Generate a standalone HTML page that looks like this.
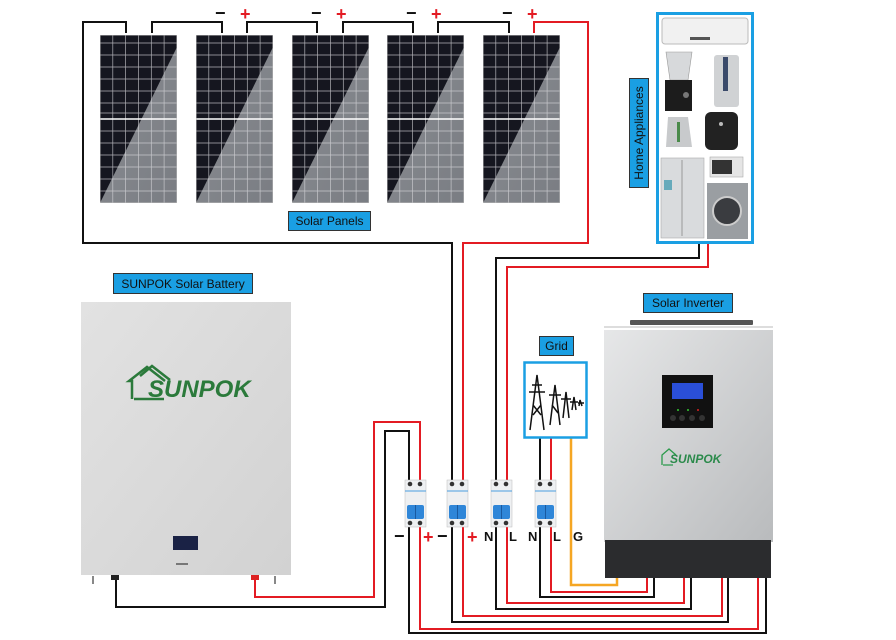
<!DOCTYPE html>
<html><head><meta charset="utf-8"><style>
html,body{margin:0;padding:0;background:#fff;}
svg{display:block}
.lbl{font-family:"Liberation Sans",sans-serif;font-size:12px;fill:#111;}
.pm{font-family:"Liberation Sans",sans-serif;font-weight:bold;font-size:18px;}
.nl{font-family:"Liberation Sans",sans-serif;font-weight:bold;font-size:13px;fill:#111;}
</style></head><body>
<svg width="896" height="640" viewBox="0 0 896 640" xmlns="http://www.w3.org/2000/svg">
<defs>
<linearGradient id="pg" x1="0" y1="0" x2="1" y2="1"><stop offset="0" stop-color="#8a8d92"/><stop offset="1" stop-color="#7a7d83"/></linearGradient>
<symbol id="panel" viewBox="0 0 77 168" width="77" height="168">
<rect x="0" y="0" width="77" height="168" fill="url(#pg)"/>
<polygon points="0,0 77,0 77,12 0,168" fill="#15161f"/>
<g stroke="#d8d8dc" stroke-width="0.7" opacity="0.8">
<line x1="12.8" y1="0" x2="12.8" y2="168"/><line x1="25.6" y1="0" x2="25.6" y2="168"/><line x1="38.5" y1="0" x2="38.5" y2="168"/><line x1="51.3" y1="0" x2="51.3" y2="168"/><line x1="64.1" y1="0" x2="64.1" y2="168"/>
<line x1="0" y1="8" x2="77" y2="8"/><line x1="0" y1="20" x2="77" y2="20"/><line x1="0" y1="32" x2="77" y2="32"/><line x1="0" y1="44" x2="77" y2="44"/><line x1="0" y1="56" x2="77" y2="56"/><line x1="0" y1="68" x2="77" y2="68"/><line x1="0" y1="78" x2="77" y2="78"/>
<line x1="0" y1="96" x2="77" y2="96"/><line x1="0" y1="108" x2="77" y2="108"/><line x1="0" y1="120" x2="77" y2="120"/><line x1="0" y1="132" x2="77" y2="132"/><line x1="0" y1="144" x2="77" y2="144"/><line x1="0" y1="156" x2="77" y2="156"/>
</g>
<line x1="0" y1="84" x2="77" y2="84" stroke="#fff" stroke-width="1.5"/>
<rect x="0" y="0" width="77" height="168" fill="none" stroke="#bbb" stroke-width="1"/>
</symbol>
<linearGradient id="inv" x1="0" y1="0" x2="1" y2="1"><stop offset="0" stop-color="#e6e7e8"/><stop offset="1" stop-color="#b9bbbd"/></linearGradient>
<linearGradient id="bat" x1="0" y1="0" x2="1" y2="1"><stop offset="0" stop-color="#e2e2e2"/><stop offset="1" stop-color="#d2d2d2"/></linearGradient>
</defs>

<!-- panels -->
<use href="#panel" x="100" y="35"/>
<use href="#panel" x="196" y="35"/>
<use href="#panel" x="292" y="35"/>
<use href="#panel" x="387" y="35"/>
<use href="#panel" x="483" y="35"/>

<!-- panel series wires -->
<g fill="none" stroke="#111" stroke-width="2">
<polyline points="126,33 126,22 83,22 83,243 452,243 452,482"/>
<polyline points="152,33 152,22 222,22 222,33"/>
<polyline points="247,33 247,22 317,22 317,33"/>
<polyline points="343,33 343,22 413,22 413,33"/>
<polyline points="438,33 438,22 509,22 509,33"/>
<polyline points="699,243 699,258 496,258 496,482"/>
<polyline points="540,438 540,482"/>
<polyline points="116,577 116,607 385,607 385,431 409,431 409,482"/>
<!-- bottom black -->
<polyline points="409,527 409,633 766,633 766,578"/>
<polyline points="452,527 452,622 728,622 728,578"/>
<polyline points="496,527 496,609 691,609 691,578"/>
<polyline points="540,527 540,597 654,597 654,578"/>
</g>
<g fill="none" stroke="#e31b23" stroke-width="2">
<polyline points="534,33 534,22 588,22 588,243 463,243 463,482"/>
<polyline points="708,243 708,267 507,267 507,482"/>
<polyline points="551,438 551,482"/>
<polyline points="255,577 255,597 374,597 374,422 420,422 420,482"/>
<polyline points="420,527 420,629 758,629 758,578"/>
<polyline points="463,527 463,616 722,616 722,578"/>
<polyline points="507,527 507,603 684,603 684,578"/>
<polyline points="551,527 551,592 647,592 647,578"/>
</g>
<polyline points="571,438 571,585 617,585 617,578" fill="none" stroke="#f5a623" stroke-width="2.5"/>

<!-- +/- on panels -->
<g class="pm">
<text x="215" y="19" fill="#111">−</text><text x="240" y="20" fill="#e31b23">+</text>
<text x="311" y="19" fill="#111">−</text><text x="336" y="20" fill="#e31b23">+</text>
<text x="406" y="19" fill="#111">−</text><text x="431" y="20" fill="#e31b23">+</text>
<text x="502" y="19" fill="#111">−</text><text x="527" y="20" fill="#e31b23">+</text>
</g>

<!-- Solar Panels label -->
<rect x="288.5" y="211.5" width="82" height="19" fill="#1a9fe3" stroke="#333"/>
<text x="329.5" y="225" text-anchor="middle" class="lbl">Solar Panels</text>

<!-- Appliances -->
<rect x="657.5" y="13.5" width="95" height="229" fill="#fff" stroke="#1a9fe3" stroke-width="3"/>
<rect x="662" y="18" width="86" height="26" rx="3" fill="#f1f1f1" stroke="#bbb"/>
<rect x="690" y="37" width="20" height="3" fill="#555"/>
<path d="M666 52 h26 l-4 28 h-18 z" fill="#d7d9db" stroke="#999" stroke-width="0.6"/>
<rect x="665" y="80" width="27" height="31" fill="#1c1c1c"/>
<circle cx="686" cy="95" r="3" fill="#777"/>
<rect x="714" y="55" width="25" height="52" rx="3" fill="#d0d2d4"/>
<rect x="723" y="57" width="5" height="34" fill="#3a4a6a"/>
<path d="M668 117 h20 l4 30 h-26 z" fill="#c8cacc"/>
<rect x="677" y="122" width="3" height="20" fill="#4a8a4a"/>
<rect x="705" y="112" width="33" height="38" rx="6" fill="#222"/>
<circle cx="721" cy="124" r="2" fill="#bbb"/>
<rect x="661" y="158" width="43" height="80" fill="#d9dbdd" stroke="#aaa" stroke-width="0.6"/>
<line x1="682" y1="160" x2="682" y2="236" stroke="#999"/>
<rect x="664" y="180" width="8" height="10" fill="#6ab"/>
<rect x="710" y="157" width="33" height="20" fill="#e5e5e5" stroke="#aaa" stroke-width="0.6"/>
<rect x="712" y="160" width="20" height="14" fill="#333"/>
<rect x="707" y="183" width="41" height="56" fill="#9a9ea2"/>
<circle cx="727" cy="211" r="14" fill="#3a3c40" stroke="#ccc" stroke-width="2"/>
<rect x="629.5" y="78.5" width="19" height="109" fill="#1a9fe3" stroke="#333"/>
<text transform="translate(643,133) rotate(-90)" text-anchor="middle" class="lbl">Home Appliances</text>

<!-- Battery -->
<text x="0" y="0"></text>
<rect x="113.5" y="273.5" width="139" height="20" fill="#1a9fe3" stroke="#333"/>
<text x="183" y="288" text-anchor="middle" class="lbl">SUNPOK Solar Battery</text>
<rect x="81" y="302" width="210" height="273" fill="url(#bat)"/>
<rect x="111" y="575" width="8" height="5" fill="#222"/>
<rect x="251" y="575" width="8" height="5" fill="#d22"/>
<path d="M93 576 v8 M275 576 v8" stroke="#888" stroke-width="2"/>
<g fill="none" stroke="#2b7a3b" stroke-width="2.5">
<path d="M132 399 v-18 l-3 0 18 -14 18 14 M140 376 l12 -10 18 14"/>
<path d="M134 399 h30"/>
</g>
<text x="148" y="397" font-family="Liberation Sans,sans-serif" font-weight="bold" font-style="italic" font-size="24" fill="#2b7a3b">SUNPOK</text>
<rect x="173" y="536" width="25" height="14" fill="#1a2245"/>
<rect x="176" y="563" width="12" height="2" fill="#777"/>

<!-- Grid -->
<rect x="539.5" y="336.5" width="34" height="19" fill="#1a9fe3" stroke="#333"/>
<text x="556.5" y="350" text-anchor="middle" class="lbl">Grid</text>
<rect x="524.5" y="362.5" width="62" height="75" fill="#fff" stroke="#1a9fe3" stroke-width="2.5"/>
<g fill="none" stroke="#111" stroke-width="1.5">
<path d="M530 430 L537 375 L544 430 M532 385 h10 M529 392 h16 M533 405 l8 10 M541 405 l-8 10"/>
<path d="M550 425 L555 385 L560 425 M549 395 h12 M552 405 l6 8"/>
<path d="M563 418 L566 392 L569 418 M561 399 h10"/>
<path d="M572 410 L574 397 L576 410 M570 402 h8"/>
<path d="M579 406 L580 400 L582 406 M578 403 h6"/>
</g>

<!-- Inverter -->
<rect x="643.5" y="293.5" width="89" height="19" fill="#1a9fe3" stroke="#333"/>
<text x="688" y="307" text-anchor="middle" class="lbl">Solar Inverter</text>
<rect x="630" y="320" width="123" height="5" rx="1" fill="#555"/>
<line x1="604" y1="327" x2="773" y2="327" stroke="#bbb"/>
<rect x="604" y="330" width="169" height="212" fill="url(#inv)"/>
<rect x="605" y="540" width="166" height="38" fill="#2b2c2e"/>
<rect x="662" y="375" width="51" height="53" fill="#111"/>
<rect x="672" y="383" width="31" height="16" fill="#2a4fd8"/>
<g fill="#333"><circle cx="673" cy="418" r="3"/><circle cx="682" cy="418" r="3"/><circle cx="692" cy="418" r="3"/><circle cx="702" cy="418" r="3"/></g>
<circle cx="678" cy="410" r="1" fill="#3c3"/><circle cx="688" cy="410" r="1" fill="#3c3"/><circle cx="698" cy="410" r="1" fill="#d22"/>
<g fill="none" stroke="#2b9a4b" stroke-width="1.3"><path d="M662 465 v-10 l7 -6 7 6 M663 465 h10"/></g>
<text x="670" y="463" font-family="Liberation Sans,sans-serif" font-weight="bold" font-style="italic" font-size="12" fill="#2b8a4b">SUNPOK</text>

<!-- breakers -->
<g>
<g transform="translate(405,480)"><rect width="21" height="47" fill="#eef0f2" stroke="#bbb" stroke-width="0.5"/><circle cx="5" cy="4" r="2.3" fill="#333"/><circle cx="15" cy="4" r="2.3" fill="#333"/><line x1="0" y1="11" x2="21" y2="11" stroke="#4a9ee0"/><rect x="2" y="25" width="17" height="14" rx="2" fill="#2f86d8"/><line x1="10.5" y1="25" x2="10.5" y2="39" stroke="#1a5aa0"/><circle cx="5" cy="43" r="2.3" fill="#333"/><circle cx="15" cy="43" r="2.3" fill="#333"/></g>
<g transform="translate(447,480)"><rect width="21" height="47" fill="#eef0f2" stroke="#bbb" stroke-width="0.5"/><circle cx="5" cy="4" r="2.3" fill="#333"/><circle cx="15" cy="4" r="2.3" fill="#333"/><line x1="0" y1="11" x2="21" y2="11" stroke="#4a9ee0"/><rect x="2" y="25" width="17" height="14" rx="2" fill="#2f86d8"/><line x1="10.5" y1="25" x2="10.5" y2="39" stroke="#1a5aa0"/><circle cx="5" cy="43" r="2.3" fill="#333"/><circle cx="15" cy="43" r="2.3" fill="#333"/></g>
<g transform="translate(491,480)"><rect width="21" height="47" fill="#eef0f2" stroke="#bbb" stroke-width="0.5"/><circle cx="5" cy="4" r="2.3" fill="#333"/><circle cx="15" cy="4" r="2.3" fill="#333"/><line x1="0" y1="11" x2="21" y2="11" stroke="#4a9ee0"/><rect x="2" y="25" width="17" height="14" rx="2" fill="#2f86d8"/><line x1="10.5" y1="25" x2="10.5" y2="39" stroke="#1a5aa0"/><circle cx="5" cy="43" r="2.3" fill="#333"/><circle cx="15" cy="43" r="2.3" fill="#333"/></g>
<g transform="translate(535,480)"><rect width="21" height="47" fill="#eef0f2" stroke="#bbb" stroke-width="0.5"/><circle cx="5" cy="4" r="2.3" fill="#333"/><circle cx="15" cy="4" r="2.3" fill="#333"/><line x1="0" y1="11" x2="21" y2="11" stroke="#4a9ee0"/><rect x="2" y="25" width="17" height="14" rx="2" fill="#2f86d8"/><line x1="10.5" y1="25" x2="10.5" y2="39" stroke="#1a5aa0"/><circle cx="5" cy="43" r="2.3" fill="#333"/><circle cx="15" cy="43" r="2.3" fill="#333"/></g>
</g>

<!-- breaker labels -->
<g class="pm">
<text x="394" y="542" fill="#111">−</text>
<text x="423" y="543" fill="#e31b23">+</text>
<text x="437" y="542" fill="#111">−</text>
<text x="467" y="543" fill="#e31b23">+</text>
</g>
<g class="nl">
<text x="484" y="541">N</text><text x="509" y="541">L</text>
<text x="528" y="541">N</text><text x="553" y="541">L</text><text x="573" y="541">G</text>
</g>
</svg>
</body></html>
